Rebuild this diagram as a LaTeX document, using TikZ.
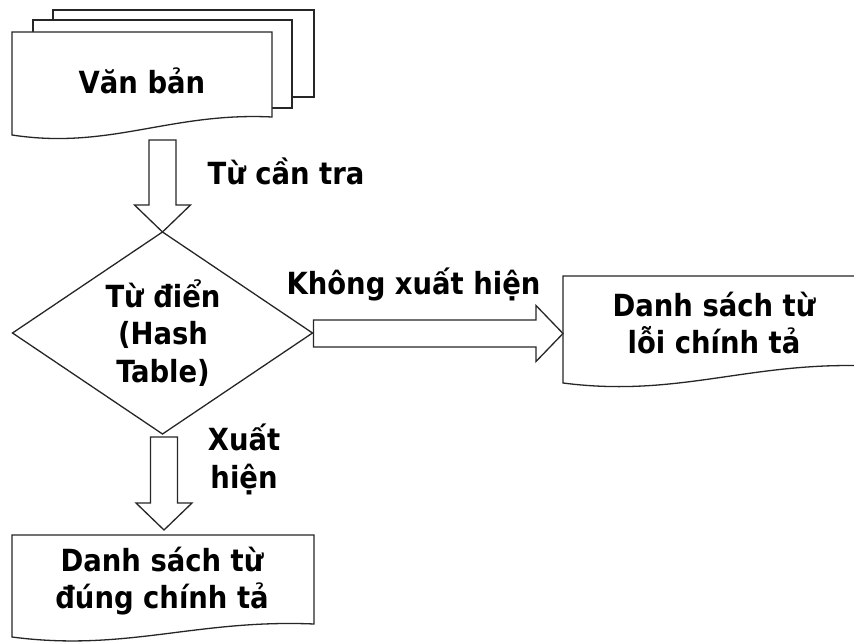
\documentclass[tikz,border=0pt]{standalone}
\usepackage{fontspec}
\setmainfont{DejaVu Sans Condensed}
\usetikzlibrary{shapes.geometric,calc}

\tikzset{
  outline/.style={draw=black!85, line width=1.3pt, line join=miter},
  label text/.style={font=\bfseries\fontsize{30.5}{37.5}\selectfont, inner sep=0pt, align=center},
}

% Hollow block arrow from #1 to #2 (shaft 27pt wide, head 56pt wide, 27pt long)
\newcommand\blockarrow[2]{%
  \path (#2) coordinate (ba-tip) ($(#2)!27pt!(#1)$) coordinate (ba-neck);
  \draw[outline, fill=white]
    ($(#1)!13.5pt!90:(#2)$) -- ($(ba-neck)!13.5pt!90:(ba-tip)$)
    -- ($(ba-neck)!28pt!90:(ba-tip)$) -- (ba-tip)
    -- ($(ba-neck)!28pt!-90:(ba-tip)$) -- ($(ba-neck)!13.5pt!-90:(ba-tip)$)
    -- ($(#1)!13.5pt!-90:(#2)$) -- cycle;
}

\begin{document}
\begin{tikzpicture}[x=1pt, y=-1pt]
  \useasboundingbox (0,0) rectangle (854,644);
  \fill[white] (0,0) rectangle (854,644);
  \clip (0,0) rectangle (854,644);

  % stacked pages of the input document
  \draw[outline, fill=white] (53,10) rectangle (314,97);
  \draw[outline, fill=white] (33,20) rectangle (292,108);
  \draw[outline, fill=white] (12,32) -- (272,32) -- (272,117)
    .. controls (170,112) and (110,150) .. (12,135) -- cycle;
  \node[label text, anchor=base] (doc) at (142,94) {Văn bản};

  % dictionary lookup
  \node[outline, diamond, minimum width=300pt, minimum height=202pt, inner sep=0pt, outer sep=0pt]
    (dict) at (162.5,333) {};
  \node[label text] (dicttext) at (163,333) {Từ điển\\(Hash\\Table)};

  % list of misspelled words
  \draw[outline, fill=white] (563,276) -- (870,276) -- (870,366)
    .. controls (750,361) and (679,398) .. (563,383) -- cycle;
  \node[label text] (miss) at (714,323) {Danh sách từ\\lỗi chính tả};

  % list of correct words
  \draw[outline, fill=white] (12,535) -- (314,535) -- (314,624)
    .. controls (196,619) and (126,652) .. (12,637) -- cycle;
  \node[label text] (hit) at (162,581) {Danh sách từ\\đúng chính tả};

  % connector end points
  \coordinate (docout) at (162.5,140);
  \coordinate (dictdown) at ($(dict.south)+(1.5,3)$);
  \coordinate (hitin) at (164,530);
  \coordinate (dictright) at ($(dict.east)+(1,0.5)$);
  \coordinate (missin) at (563,333.5);

  \blockarrow{docout}{dict.north}
  \blockarrow{dictright}{missin}
  \blockarrow{dictdown}{hitin}

  % connector labels
  \node[label text, anchor=base] (lblquery) at (286,185) {Từ cần tra};
  \node[label text, anchor=base] (lblmiss) at (413.5,295) {Không xuất hiện};
  \node[label text] (lblhit) at (244,459.5) {Xuất\\hiện};
\end{tikzpicture}
\end{document}
